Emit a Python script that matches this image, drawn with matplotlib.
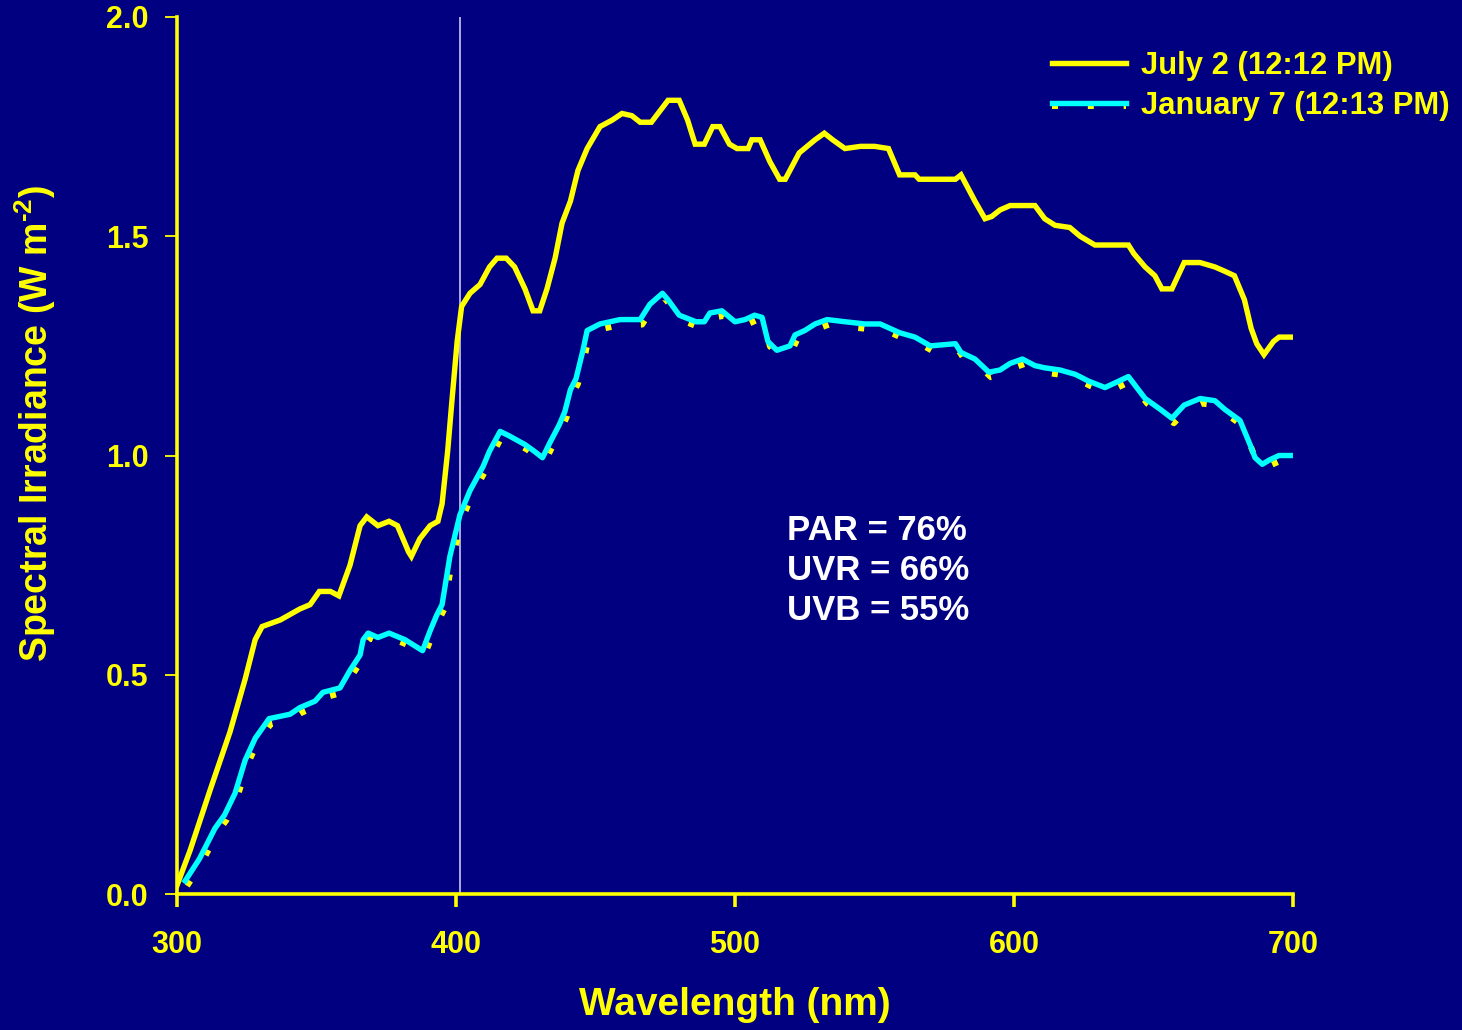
import matplotlib
matplotlib.use("Agg")
import matplotlib.pyplot as plt
import matplotlib.transforms as mtransforms
from matplotlib.legend_handler import HandlerTuple, HandlerLine2D

# ---- data ----
july_wl = [300, 304.7, 312, 319, 324.4, 328, 330.5, 337, 344, 347.7, 351, 355, 358, 362, 365.6,
           368, 372, 376, 379, 383, 384, 387, 390.7, 393.5, 395, 397, 398.6, 400.4, 402, 405,
           408.6, 412, 414.7, 418, 421, 424.7, 427.6, 430, 432.6, 435.5, 438, 441, 443.7, 447,
           451.6, 456, 459.5, 463, 466, 470, 473, 476, 480, 483, 485.7, 489, 492, 494.6, 498,
           500.7, 504.7, 506, 509, 512.5, 516, 518, 523, 528.7, 532, 535, 539.4, 545, 550, 555,
           559, 564.5, 566, 579, 581, 586, 589.6, 592, 595, 598.6, 607.5, 611, 614.7, 620, 623.7,
           629, 631, 641, 643, 647, 650.5, 653, 656.6, 661, 666.7, 672, 675.6, 679, 682.6, 685,
           687, 689.6, 693, 695, 700]
july_val = [0.02, 0.10, 0.24, 0.37, 0.49, 0.58, 0.61, 0.625, 0.65, 0.66, 0.69, 0.69, 0.68, 0.75,
            0.84, 0.86, 0.84, 0.85, 0.84, 0.78, 0.77, 0.81, 0.84, 0.85, 0.89, 1.01, 1.13, 1.26,
            1.34, 1.37, 1.39, 1.43, 1.45, 1.45, 1.43, 1.38, 1.33, 1.33, 1.38, 1.45, 1.53, 1.58,
            1.65, 1.70, 1.75, 1.765, 1.78, 1.775, 1.76, 1.76, 1.785, 1.81, 1.81, 1.765, 1.71,
            1.71, 1.75, 1.75, 1.71, 1.70, 1.70, 1.72, 1.72, 1.67, 1.63, 1.63, 1.69, 1.72, 1.735,
            1.72, 1.70, 1.705, 1.705, 1.70, 1.64, 1.64, 1.63, 1.63, 1.64, 1.58, 1.54, 1.545,
            1.56, 1.57, 1.57, 1.54, 1.525, 1.52, 1.50, 1.48, 1.48, 1.48, 1.46, 1.43, 1.41, 1.38,
            1.38, 1.44, 1.44, 1.43, 1.42, 1.41, 1.355, 1.29, 1.255, 1.23, 1.26, 1.27, 1.27]

jan_wl = [302.9, 308, 313.6, 317, 320.8, 324.4, 328, 333, 340.5, 344, 349.5, 352.3, 358.4, 362,
          365.6, 366.7, 368.5, 372, 376, 381.7, 388, 390.7, 393, 395, 397.8, 401.4, 405, 409.7,
          412, 415.8, 419, 424.7, 428, 431, 433.7, 437, 439, 441, 443, 445.5, 447, 451.6, 458.8,
          466, 469.5, 474, 476, 480, 486, 489, 491, 495.3, 500, 503.6, 507, 509.7, 511.8, 515,
          519.7, 521.5, 525, 528.7, 533, 539.5, 546.6, 552, 559, 564.5, 570, 579, 581, 586, 591,
          595, 598.6, 603, 607.5, 611, 616.5, 622, 626.6, 632.6, 636, 641, 647, 652.5, 656.6,
          661, 666.7, 672, 675.6, 681, 684.6, 686.4, 689, 691.6, 695, 699]
jan_val = [0.03, 0.08, 0.15, 0.18, 0.23, 0.305, 0.355, 0.40, 0.41, 0.425, 0.44, 0.46, 0.47, 0.51,
           0.545, 0.58, 0.595, 0.585, 0.595, 0.58, 0.555, 0.60, 0.635, 0.66, 0.77, 0.865, 0.92,
           0.975, 1.01, 1.055, 1.045, 1.025, 1.01, 0.995, 1.03, 1.07, 1.10, 1.15, 1.175, 1.24,
           1.285, 1.30, 1.31, 1.31, 1.345, 1.37, 1.355, 1.32, 1.305, 1.305, 1.325, 1.33, 1.305,
           1.31, 1.32, 1.315, 1.26, 1.24, 1.25, 1.275, 1.285, 1.30, 1.31, 1.305, 1.30, 1.30,
           1.28, 1.27, 1.25, 1.255, 1.235, 1.22, 1.19, 1.195, 1.21, 1.22, 1.205, 1.20, 1.195,
           1.185, 1.17, 1.155, 1.165, 1.18, 1.13, 1.105, 1.085, 1.115, 1.13, 1.125, 1.105, 1.08,
           1.025, 0.995, 0.98, 0.99, 1.0, 1.0]

series_labels = ["July 2 (12:12 PM)", "January 7 (12:13 PM)"]
x_ticks = [300, 400, 500, 600, 700]
y_ticks = [0.0, 0.5, 1.0, 1.5, 2.0]
annotations = ["PAR = 76%", "UVR = 66%", "UVB = 55%"]
divider_wl = 401.5

# ---- style ----
NAVY = "#000080"
YEL = "#FFFF00"
CYAN = "#00FFFF"
plt.rcParams["font.family"] = ["Liberation Sans", "DejaVu Sans"]
plt.rcParams["font.weight"] = "bold"
plt.rcParams["mathtext.fontset"] = "custom"
plt.rcParams["mathtext.rm"] = "Liberation Sans:bold"
plt.rcParams["mathtext.bf"] = "Liberation Sans:bold"
plt.rcParams["mathtext.default"] = "bf"


class ShiftedLineHandler(HandlerLine2D):
    """Legend line handler drawn slightly below the handle centre."""
    def __init__(self, dy=3, **kw):
        super().__init__(**kw)
        self.dy = dy

    def create_artists(self, legend, orig_handle, xdescent, ydescent, width, height,
                       fontsize, trans):
        return super().create_artists(legend, orig_handle, xdescent,
                                      ydescent + 2 * self.dy, width, height,
                                      fontsize, trans)


fig = plt.figure(figsize=(14.62, 10.30), dpi=100, facecolor=NAVY)
ax = fig.add_axes([0.1211, 0.132, 0.7633, 0.8515], facecolor=NAVY)

ax.axvline(divider_wl, color="#C8C8F0", lw=1.2, zorder=1)

l1, = ax.plot(july_wl, july_val, color=YEL, lw=3.9, solid_joinstyle="miter", zorder=3,
              label=series_labels[0])
off = mtransforms.offset_copy(ax.transData, fig=fig, x=2, y=-5, units="dots")
l2a, = ax.plot(jan_wl, jan_val, color=YEL, lw=4.3, linestyle=(0, (1, 5)),
               dash_capstyle="butt", transform=off, zorder=2)
l2b, = ax.plot(jan_wl, jan_val, color=CYAN, lw=3.9, zorder=4)

ax.set_xlim(300, 700)
ax.set_ylim(0, 2.0)
ax.set_xticks(x_ticks)
ax.set_yticks(y_ticks)
ax.set_yticklabels([f"{v:.1f}" for v in y_ticks])

for s in ["top", "right"]:
    ax.spines[s].set_visible(False)
for s in ["left", "bottom"]:
    ax.spines[s].set_color(YEL)
    ax.spines[s].set_linewidth(2.6)

ax.tick_params(axis="x", direction="out", length=9, width=2.6, color=YEL,
               labelcolor=YEL, labelsize=22, pad=17)
ax.tick_params(axis="y", direction="out", length=8.5, width=1.3, color=YEL,
               labelcolor=YEL, labelsize=22, pad=12)
for lab in ax.get_xticklabels() + ax.get_yticklabels():
    lab.set_fontweight("bold")

ax.set_xlabel("Wavelength (nm)", color=YEL, fontsize=28, fontweight="bold",
              va="center", ha="center")
ax.xaxis.set_label_coords(0.5, -0.127)
ax.set_ylabel(r"Spectral Irradiance (W m$^{\text{-2}}$)", color=YEL, fontsize=27,
              fontweight="bold", va="center", ha="center")
ax.yaxis.set_label_coords(-0.127, 0.537)

ann_y = [0.828, 0.737, 0.646]
for t, yv in zip(annotations, ann_y):
    ax.text(518.6, yv, t, color="white", fontsize=25, fontweight="bold",
            ha="left", va="center", zorder=5)

leg = ax.legend([l1, (l2a, l2b)], series_labels,
                handler_map={tuple: HandlerTuple(ndivide=1, pad=0),
                             l2a: ShiftedLineHandler(dy=2.5)},
                loc="upper left", bbox_to_anchor=(0.7725, 0.975), frameon=False,
                fontsize=22.3, handlelength=2.42, handletextpad=0.48, labelspacing=0.3,
                borderaxespad=0)
for txt in leg.get_texts():
    txt.set_color(YEL)
    txt.set_fontweight("bold")

fig.savefig("out.png", dpi=100, facecolor=NAVY)
